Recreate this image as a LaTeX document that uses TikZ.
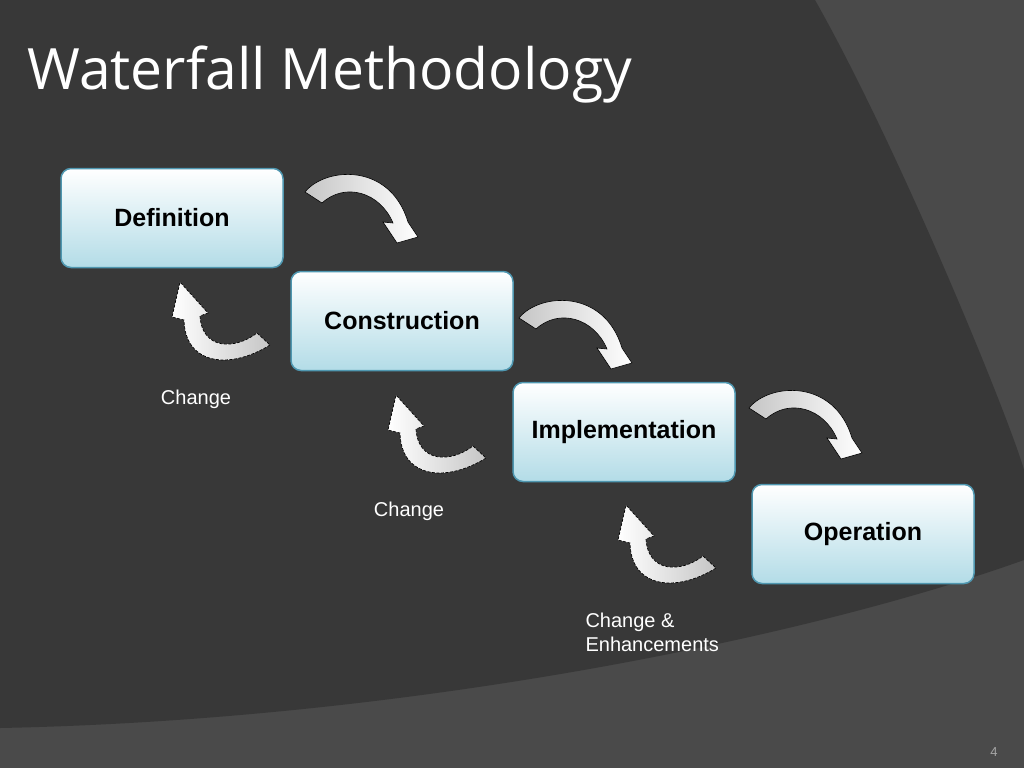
\documentclass[tikz,border=0pt]{standalone}
\usepackage{fontspec}
\setmainfont{Liberation Sans}
\newfontfamily\titlefont{Open Sans}
\usetikzlibrary{positioning}
\definecolor{bgdark}{HTML}{383838}
\definecolor{bglight}{HTML}{4A4A4A}
\definecolor{boxedge}{HTML}{4F97B0}
\definecolor{boxlow}{HTML}{B3DCE7}
\tikzset{
  phase/.style={draw=boxedge, line width=1.5pt, rounded corners=10pt, top color=white, bottom color=boxlow,
    minimum width=222pt, minimum height=99pt, font=\bfseries\fontsize{25}{25}\selectfont},
  note/.style={text=white, font=\fontsize{20}{24}\selectfont, align=left},
  fwd/.style={draw=black, line width=0.6pt, left color=gray!45, right color=white},
  bwd/.style={draw=black, line width=0.7pt, dashed, dash pattern=on 3pt off 1.5pt, left color=white, right color=gray!45}
}
% curved arrow down to the next phase
\newcommand\fwdarrow[1]{\path[fwd, shift={#1}] (0,0) .. controls (20,-25) and (85,-30) .. (103,30) -- (113,45) -- (92,51)
  -- (78,30) -- (88,31) .. controls (75,0) and (40,-10) .. (17,11) -- cycle;}
% curved arrow back to the phase before
\newcommand\bwdarrow[1]{\path[bwd, shift={#1}] (0,0) .. controls (-40,25) and (-85,20) .. (-86,-25) -- (-98,-28)
  -- (-90,-63) -- (-62,-32) -- (-70,-29) .. controls (-68,5) and (-35,5) .. (-13,-12) -- cycle;}
\begin{document}
\begin{tikzpicture}[x=1pt,y=-1pt]
\fill[bglight] (0,0) rectangle (1024,768);
\fill[bgdark] (0,0) -- (815,0) .. controls (900,150) and (1010,420) .. (1024,470) -- (1024,560)
  .. controls (800,640) and (400,720) .. (0,728) -- cycle;
\useasboundingbox (0,0) rectangle (1024,768);
\node[anchor=west, text=white, font=\titlefont\fontsize{57}{57}\selectfont] (title) at (24,75) {Waterfall Methodology};
\node[phase] (def) at (172,218) {Definition};
\node[phase] (con) at (402,321) {Construction};
\node[phase] (imp) at (624,432) {Implementation};
\node[phase] (ope) at (863,534) {Operation};
\fwdarrow{(305,192)}
\fwdarrow{(519,318)}
\fwdarrow{(749,408)}
\bwdarrow{(270,345)}
\bwdarrow{(486,458)}
\bwdarrow{(716,568)}
\node[note] (ch1) at (196,399) {Change};
\node[note] (ch2) at (409,511) {Change};
\node[note, anchor=west] (ch3) at (582,632) {Change \&\\Enhancements};
\node[text=gray!70, font=\fontsize{13}{13}\selectfont] (num) at (994,752) {4};
\end{tikzpicture}
\end{document}
